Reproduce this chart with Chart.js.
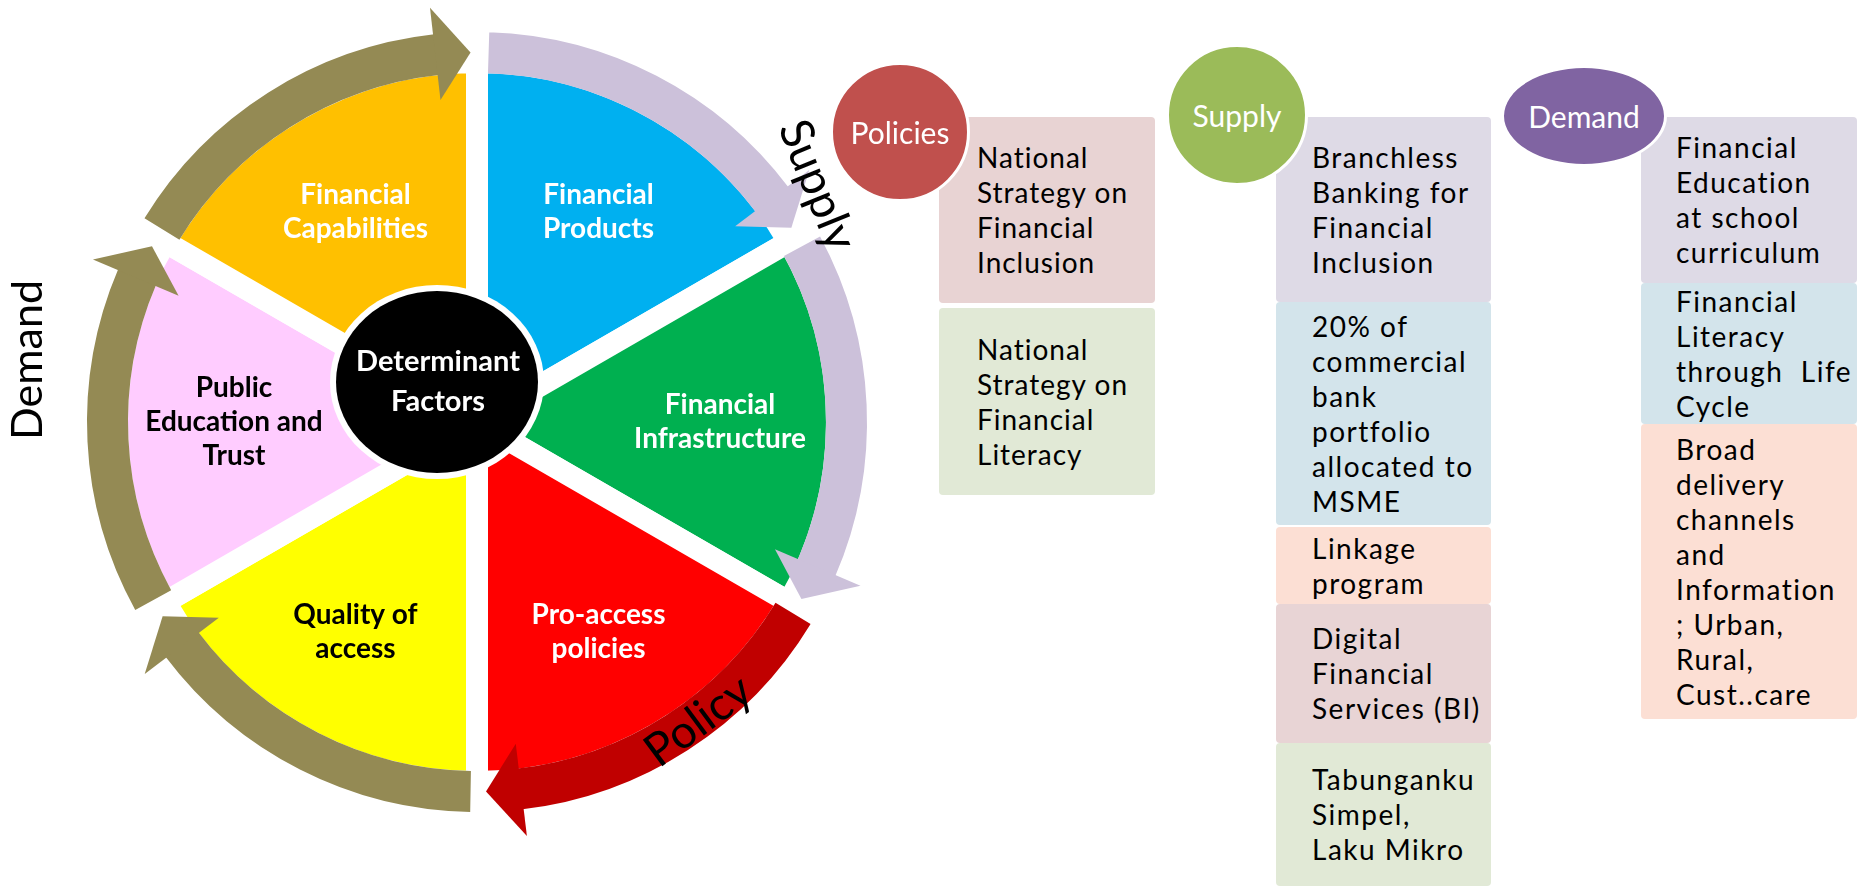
<!DOCTYPE html>
<html>
<head>
<meta charset="utf-8">
<script src="https://cdn.jsdelivr.net/npm/chart.js@4.4.0/dist/chart.umd.min.js"></script>
<style>
  html, body { margin: 0; padding: 0; background: #fff; }
  body { width: 1864px; height: 886px; position: relative; overflow: hidden; font-family: Lato, "Noto Sans", sans-serif; }
  canvas { position: absolute; left: 0; top: 0; }
  .box { position: absolute; display: flex; align-items: center; box-sizing: border-box; font-size: 28px; line-height: 35px; color: #000; white-space: pre; border-radius: 4px; }
  .circ { position: absolute; border: 3px solid #fff; box-sizing: border-box; border-radius: 50%; display: flex; align-items: center; justify-content: center; color: #fff; font-size: 30px; }
</style>
</head>
<body>
<canvas id="pie" width="954" height="844"></canvas>
<canvas id="ring" width="954" height="844"></canvas>
<script>
// wheel: six equal determinant factors, clockwise from 12 o'clock
const factors = ['Financial Products', 'Financial Infrastructure', 'Pro-access policies', 'Quality of access', 'Public Education and Trust', 'Financial Capabilities'];
const factorLines = [['Financial', 'Products'], ['Financial', 'Infrastructure'], ['Pro-access', 'policies'], ['Quality of', 'access'], ['Public', 'Education and', 'Trust'], ['Financial', 'Capabilities']];
const factorShare = [1, 1, 1, 1, 1, 1];
const factorColors = ['#00B0F0', '#00B050', '#FF0000', '#FFFF00', '#FFCCFF', '#FFC000'];
const factorTextColors = ['#fff', '#fff', '#fff', '#000', '#000', '#fff'];
const hubLines = ['Determinant', 'Factors'];

// circular arrows round the wheel (degrees, clockwise from 3 o'clock)
const arrowGroup = ['Supply', 'Policy', 'Demand', 'Demand', 'Demand', 'Supply'];
const arrowTail = [331.6, 31.2, 91, 151.2, 211.5, 271.8];
const arrowTip = [28.6, 88.6, 148.3, 208.4, 269, 328.3];
const arrowColors = ['#CCC1DA', '#C00000', '#948A54', '#948A54', '#948A54', '#CCC1DA'];

// right hand side lists
const groupNames = ['Policies', 'Supply', 'Demand'];
const policyItems = ['National\nStrategy on\nFinancial\nInclusion', 'National\nStrategy on\nFinancial\nLiteracy'];
const supplyItems = ['Branchless\nBanking for\nFinancial\nInclusion', '20% of\ncommercial\nbank\nportfolio\nallocated to\nMSME', 'Linkage\nprogram', 'Digital\nFinancial\nServices (BI)', 'Tabunganku\nSimpel,\nLaku Mikro'];
const demandItems = ['Financial\nEducation\nat school\ncurriculum', 'Financial\nLiteracy\nthrough  Life\nCycle', 'Broad\ndelivery\nchannels\nand\nInformation\n; Urban,\nRural,\nCust..care'];

const FONT = 'Lato, "Noto Sans", sans-serif';
const rad = d => d * Math.PI / 180;

// ---- wheel ----
const pieDecor = {
  id: 'pieDecor',
  afterDatasetsDraw(chart) {
    const ctx = chart.ctx;
    const arcs = chart.getDatasetMeta(0).data;
    const cx = arcs[0].x, cy = arcs[0].y;
    ctx.save();
    ctx.textAlign = 'center';
    ctx.textBaseline = 'middle';
    ctx.font = 'bold 28px ' + FONT;
    arcs.forEach((a, i) => {
      const mid = (a.startAngle + a.endAngle) / 2;
      const px = cx + Math.cos(mid) * 243, py = cy + Math.sin(mid) * 243;
      const lines = factorLines[i];
      ctx.fillStyle = factorTextColors[i];
      lines.forEach((t, j) => ctx.fillText(t, px, py + (j - (lines.length - 1) / 2) * 34));
    });
    // hub
    const hx = cx - 40, hy = cy - 40;
    ctx.fillStyle = '#fff';
    ctx.beginPath(); ctx.ellipse(hx, hy, 107, 97, 0, 0, Math.PI * 2); ctx.fill();
    ctx.fillStyle = '#000';
    ctx.beginPath(); ctx.ellipse(hx, hy, 101, 91, 0, 0, Math.PI * 2); ctx.fill();
    ctx.fillStyle = '#fff';
    ctx.font = 'bold 29px ' + FONT;
    ctx.fillText(hubLines[0], hx + 1, hy - 20);
    ctx.fillText(hubLines[1], hx + 1, hy + 20);
    // side label
    ctx.translate(42, 360);
    ctx.rotate(-Math.PI / 2);
    ctx.textBaseline = 'alphabetic';
    ctx.fillStyle = '#000';
    ctx.font = '43px ' + FONT;
    ctx.fillText(groupNames[2], 0, 0);
    ctx.restore();
  }
};

new Chart(document.getElementById('pie'), {
  type: 'pie',
  data: {
    labels: factors,
    datasets: [{
      data: factorShare,
      backgroundColor: factorColors,
      borderColor: '#fff',
      borderWidth: 22,
      borderAlign: 'center',
      borderJoinStyle: 'miter'
    }]
  },
  options: {
    responsive: false,
    animation: false,
    events: [],
    radius: 360,
    layout: { padding: 0 },
    plugins: { legend: { display: false }, tooltip: { enabled: false } }
  },
  plugins: [pieDecor]
});

// ---- arrows ----
const headSpan = 5.3;
const ringData = [], ringColors = [], ringLabels = [];
arrowTail.forEach((t, i) => {
  const base = arrowTip[i] - headSpan;
  const next = arrowTail[(i + 1) % arrowTail.length];
  ringData.push(((base - t) % 360 + 360) % 360);
  ringColors.push(arrowColors[i]);
  ringLabels.push(arrowGroup[i]);
  ringData.push(((next - base) % 360 + 360) % 360);
  ringColors.push('rgba(0,0,0,0)');
  ringLabels.push('');
});

const ringDecor = {
  id: 'ringDecor',
  afterDatasetsDraw(chart) {
    const ctx = chart.ctx;
    const arcs = chart.getDatasetMeta(0).data;
    const cx = arcs[0].x, cy = arcs[0].y;
    ctx.save();
    arcs.forEach((a, k) => {
      if (k % 2) return;
      const i = k / 2;
      const rin = a.innerRadius - 25, rout = a.outerRadius + 27, rmid = (a.innerRadius + a.outerRadius) / 2;
      const b = a.endAngle - 0.003, tip = rad(arrowTip[i]);
      ctx.fillStyle = arrowColors[i];
      ctx.beginPath();
      ctx.moveTo(cx + rin * Math.cos(b), cy + rin * Math.sin(b));
      ctx.lineTo(cx + rout * Math.cos(b), cy + rout * Math.sin(b));
      ctx.lineTo(cx + rmid * Math.cos(tip), cy + rmid * Math.sin(tip));
      ctx.closePath();
      ctx.fill();
    });
    ctx.fillStyle = '#000';
    ctx.textAlign = 'center';
    ctx.textBaseline = 'alphabetic';
    ctx.font = '46px ' + FONT;
    // Policy along the red arrow
    let ang = rad(53.5);
    ctx.save();
    ctx.translate(cx + 387 * Math.cos(ang), cy + 387 * Math.sin(ang));
    ctx.rotate(rad(-36.5));
    ctx.fillText(arrowGroup[1], 0, 0);
    ctx.restore();
    // Supply outside the lavender arrows
    ang = rad(-35.3);
    ctx.save();
    ctx.translate(cx + 400 * Math.cos(ang), cy + 400 * Math.sin(ang));
    ctx.rotate(rad(68));
    ctx.fillText(arrowGroup[0], 0, 0);
    ctx.restore();
    ctx.restore();
  }
};

new Chart(document.getElementById('ring'), {
  type: 'doughnut',
  data: {
    labels: ringLabels,
    datasets: [{ data: ringData, backgroundColor: ringColors, borderWidth: 0 }]
  },
  options: {
    responsive: false,
    animation: false,
    events: [],
    radius: 390,
    cutout: (349 / 390 * 100) + '%',
    rotation: arrowTail[0] + 90,
    plugins: { legend: { display: false }, tooltip: { enabled: false } }
  },
  plugins: [ringDecor]
});

// ---- right hand lists ----
const columns = [
  { items: policyItems, left: 939, width: 216, pad: 38, spacing: 1,
    tops: [117, 308], heights: [186, 187], fills: ['#E8D3D3', '#E1E9D6'],
    circle: { x: 900, y: 132, rx: 67, ry: 67, color: '#C0504D' } },
  { items: supplyItems, left: 1276, width: 215, pad: 36, spacing: 1.5,
    tops: [117, 302, 527, 604, 743], heights: [185, 223, 77, 139, 143],
    fills: ['#DEDAE6', '#D3E4EB', '#FCDFD4', '#E8D4D5', '#E1E9D6'],
    circle: { x: 1237, y: 115, rx: 68, ry: 68, color: '#9BBB59' } },
  { items: demandItems, left: 1641, width: 216, pad: 35, spacing: 1.5,
    tops: [117, 283, 424], heights: [166, 141, 295], fills: ['#DEDAE6', '#D3E4EB', '#FCDFD4'],
    circle: { x: 1584, y: 116, rx: 80, ry: 48, color: '#8064A2' } }
];

columns.forEach((col, c) => {
  col.items.forEach((txt, i) => {
    const d = document.createElement('div');
    d.className = 'box';
    Object.assign(d.style, {
      left: col.left + 'px', top: col.tops[i] + 'px', width: col.width + 'px', height: col.heights[i] + 'px',
      paddingLeft: col.pad + 'px', background: col.fills[i], letterSpacing: col.spacing + 'px'
    });
    d.textContent = txt;
    document.body.appendChild(d);
  });
});
columns.forEach((col, c) => {
  const k = col.circle;
  const d = document.createElement('div');
  d.className = 'circ';
  Object.assign(d.style, {
    left: (k.x - k.rx - 3) + 'px', top: (k.y - k.ry - 3) + 'px',
    width: (2 * k.rx + 6) + 'px', height: (2 * k.ry + 6) + 'px', background: k.color
  });
  d.textContent = groupNames[c];
  document.body.appendChild(d);
});
</script>
</body>
</html>
